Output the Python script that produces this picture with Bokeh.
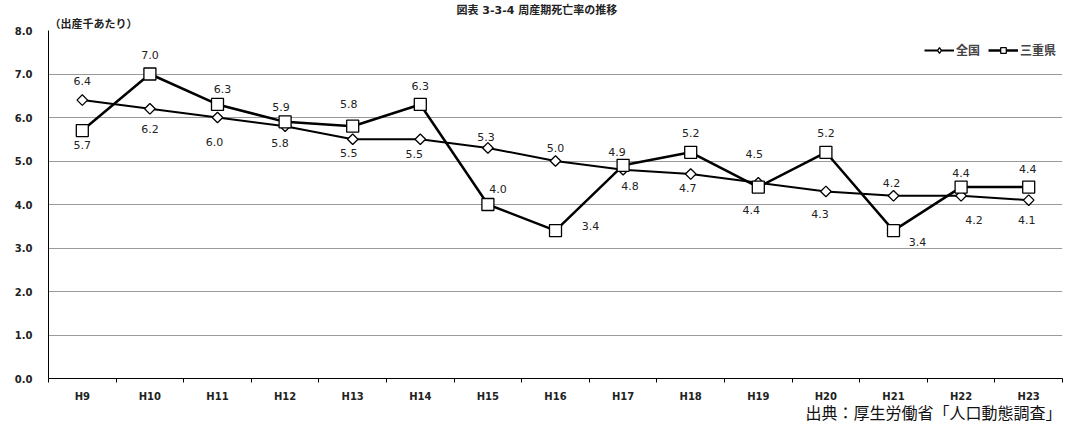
import math
from bokeh.plotting import figure
from bokeh.models import (Range1d, FixedTicker, ColumnDataSource, LabelSet, Title,
                          Legend, LegendItem, PrintfTickFormatter)
from bokeh.core.properties import value
from bokeh.embed import file_html
from bokeh.resources import INLINE

# ---- data ----
years = ["H9", "H10", "H11", "H12", "H13", "H14", "H15", "H16",
         "H17", "H18", "H19", "H20", "H21", "H22", "H23"]
zenkoku = [6.4, 6.2, 6.0, 5.8, 5.5, 5.5, 5.3, 5.0, 4.8, 4.7, 4.5, 4.3, 4.2, 4.2, 4.1]
mie = [5.7, 7.0, 6.3, 5.9, 5.8, 6.3, 4.0, 3.4, 4.9, 5.2, 4.4, 5.2, 3.4, 4.4, 4.4]
y_ticks = [0, 1, 2, 3, 4, 5, 6, 7, 8]
series_names = ["全国", "三重県"]
title_text = "図表 3-3-4 周産期死亡率の推移"
unit_text = "（出産千あたり）"
source_text = "出典：厚生労働省「人口動態調査」"

# ---- label placement (screen px, y up) ----
zen_dx = [0, 0, -3, -5, -4, -6, -2, 0, 7, -3, -4, -6, -2, 13, -2]
zen_dy = [19, -20, -24, -17, -14, -15, 11, 13, -16, -14, 29, -23, 13, -24, -20]
mie_dx = [0, 0, 5, -4, -4, 0, 10, 35, -6, 0, -7, 0, 24, 0, -1]
mie_dy = [-14, 19, 15, 15, 22, 18, 16, 5, 13, 19, -23, 19, -11, 14, 18]

W, H = 1069, 423
n = len(years)
xs = [i + 0.5 for i in range(n)]
CJK = "DejaVu Sans, Noto Sans CJK JP"

p = figure(width=W, height=H, output_backend="svg", toolbar_location=None,
           x_range=Range1d(0, n), y_range=Range1d(0, 8),
           min_border_left=48, min_border_right=7, min_border_top=30, min_border_bottom=45)
p.outline_line_color = None
p.background_fill_color = "white"

# chart title (outermost), then the unit label next to the frame
p.title.text = title_text
p.title.align = "left"
p.title.offset = 408
p.title.standoff = 0
p.title.text_font = CJK
p.title.text_font_style = "bold"
p.title.text_font_size = "11px"
p.title.text_color = "#222222"
p.add_layout(Title(text=unit_text, align="left", offset=1, standoff=-1,
                   text_font=CJK, text_font_style="bold",
                   text_font_size="11px", text_color="#222222"), "above")
p.add_layout(Title(text=source_text, align="right", standoff=-5, offset=1,
                   text_font=CJK, text_font_style="normal",
                   text_font_size="16px", text_color="#111111"), "below")

# axes
p.xaxis.ticker = FixedTicker(ticks=xs, minor_ticks=list(range(n + 1)))
p.xaxis.major_label_overrides = {x: y for x, y in zip(xs, years)}
p.xaxis.major_tick_line_color = None
p.xaxis.minor_tick_line_color = "black"
p.xaxis.minor_tick_in = 0
p.xaxis.minor_tick_out = 4
p.xaxis.axis_line_color = "black"
p.xaxis.axis_line_width = 1
p.xaxis.major_label_text_font = "DejaVu Sans"
p.xaxis.major_label_text_font_style = "bold"
p.xaxis.major_label_text_font_size = "10px"
p.xaxis.major_label_text_color = "#222222"
p.xaxis.major_label_standoff = 6

p.yaxis.ticker = FixedTicker(ticks=y_ticks, minor_ticks=[])
p.yaxis.formatter = PrintfTickFormatter(format="%.1f")
p.yaxis.major_tick_line_color = None
p.yaxis.minor_tick_line_color = None
p.yaxis.axis_line_color = "black"
p.yaxis.axis_line_width = 1
p.yaxis.major_label_text_font = "DejaVu Sans"
p.yaxis.major_label_text_font_style = "bold"
p.yaxis.major_label_text_font_size = "10px"
p.yaxis.major_label_text_color = "#222222"
p.yaxis.major_label_standoff = 10

p.xgrid.grid_line_color = None
p.ygrid.ticker = FixedTicker(ticks=y_ticks[1:])
p.ygrid.grid_line_color = "#9a9a9a"
p.ygrid.grid_line_width = 1

src = ColumnDataSource(dict(x=xs, zen=zenkoku, mie=mie,
                            zen_lbl=[f"{v:.1f}" for v in zenkoku],
                            mie_lbl=[f"{v:.1f}" for v in mie],
                            zdx=zen_dx, zdy=zen_dy, mdx=mie_dx, mdy=mie_dy))

l1 = p.line("x", "zen", source=src, line_color="black", line_width=2.0)
l2 = p.line("x", "mie", source=src, line_color="black", line_width=2.5)
m1 = p.scatter("x", "zen", source=src, marker="square", angle=math.pi / 4, size=7.5,
               fill_color="white", line_color="black", line_width=1.3)
m2 = p.scatter("x", "mie", source=src, marker="square", size=12,
               fill_color="white", line_color="black", line_width=1.3)
# hidden renderer used only for the legend's diamond symbol
proxy = p.scatter("x", "zen", source=src, marker="diamond", size=12, visible=False,
                  fill_color="white", line_color="black", line_width=1.3)

for col, dx, dy in (("zen", "zdx", "zdy"), ("mie", "mdx", "mdy")):
    ls = LabelSet(x="x", y=col, text=col + "_lbl", source=src,
                  x_offset=dx, y_offset=dy, text_align="center", text_baseline="middle",
                  text_font=value("DejaVu Sans"), text_font_size="11px", text_color="#222222")
    p.add_layout(ls)

legend = Legend(items=[LegendItem(label=series_names[0], renderers=[l1, proxy]),
                       LegendItem(label=series_names[1], renderers=[l2, m2])],
                location=(876, 320), orientation="horizontal",
                border_line_color=None, background_fill_alpha=0,
                inactive_fill_alpha=0,
                label_text_font="Noto Sans CJK JP", label_text_font_style="bold",
                label_text_font_size="12px", label_standoff=2,
                glyph_width=30, glyph_height=14, spacing=8, padding=0, margin=0)
p.add_layout(legend)

open("out.html", "w").write(file_html(p, INLINE))
